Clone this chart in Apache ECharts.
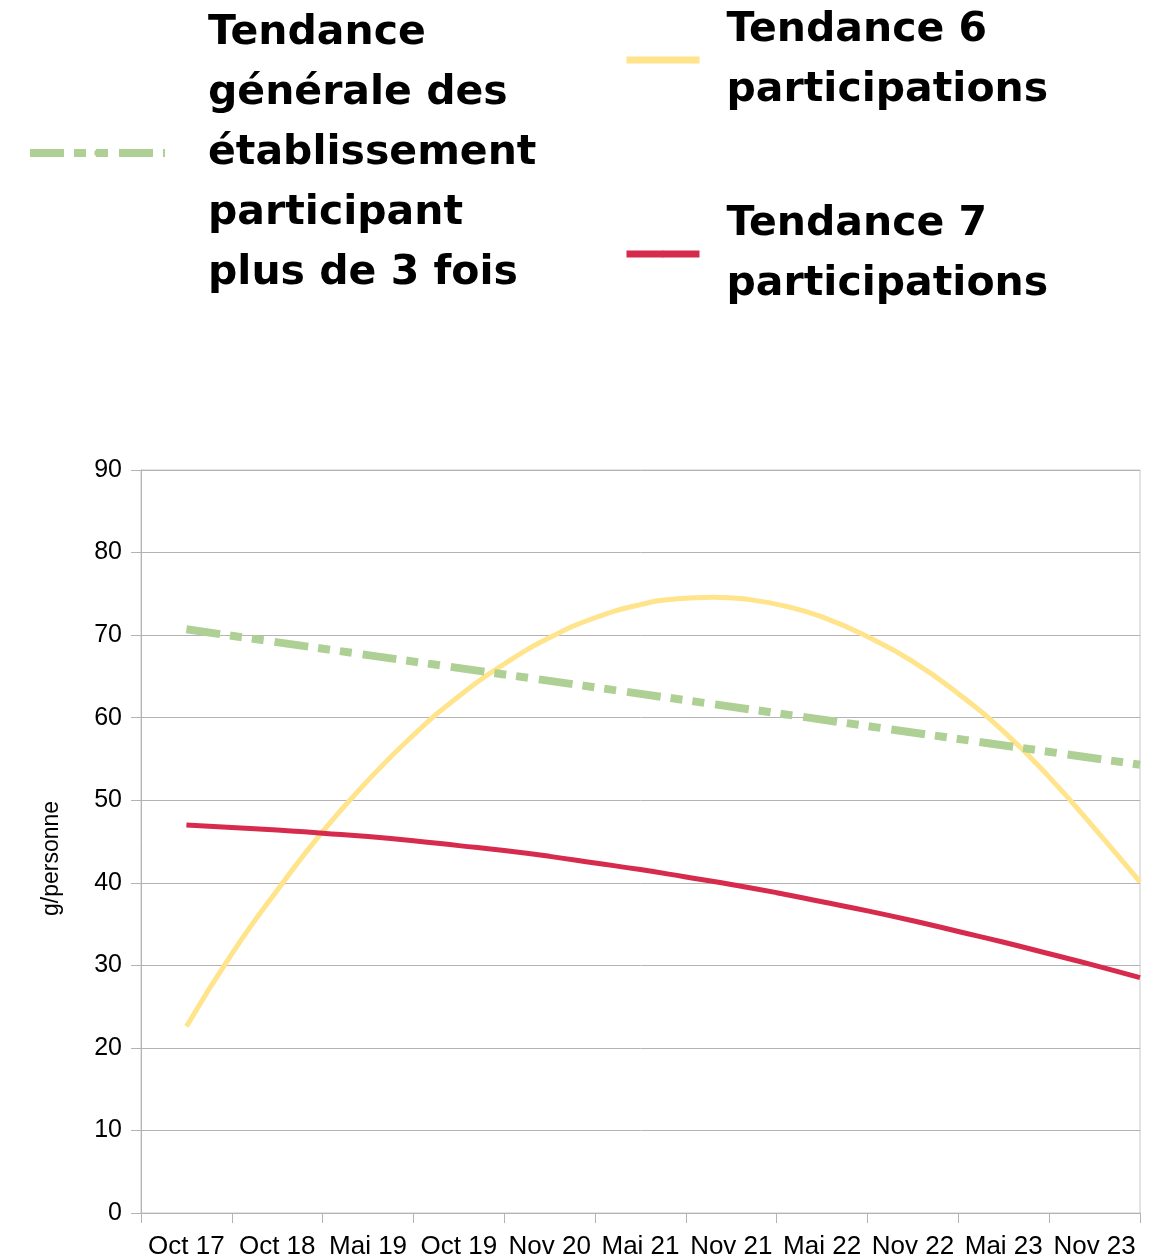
<!DOCTYPE html>
<html>
<head>
<meta charset="utf-8">
<script src="https://cdn.jsdelivr.net/npm/echarts@6/dist/echarts.min.js"></script>
<style>
  html, body { margin: 0; padding: 0; background: #fff; }
  #chart { width: 1166px; height: 1260px; }
</style>
</head>
<body>
<div id="chart"></div>
<script>
var chart = echarts.init(document.getElementById('chart'));

// periods on the x axis
var periods = ['Oct 17', 'Oct 18', 'Mai 19', 'Oct 19', 'Nov 20', 'Mai 21',
               'Nov 21', 'Mai 22', 'Nov 22', 'Mai 23', 'Nov 23'];

// trend curves, read every half period (last point = right edge of plot)
var trendPos = [0, 0.5, 1, 1.5, 2, 2.5, 3, 3.5, 4, 4.5, 5, 5.5,
                6, 6.5, 7, 7.5, 8, 8.5, 9, 9.5, 10, 10.5];
var generalPos = [0, 10.5];
var generalVals = [70.7, 54.3];
var sixPos = [0, 0.5, 1, 1.5, 2, 2.5, 3, 3.5, 4, 4.5, 5, 5.4, 5.8,
              6.2, 6.6, 7, 7.5, 8, 8.5, 9, 9.5, 10, 10.5];
var six = [22.6, 31.4, 39.1, 46.2, 52.4, 57.9, 62.6, 66.5, 69.7, 72.1, 73.7, 74.4, 74.6,
           74.3, 73.5, 72.2, 69.8, 66.8, 62.9, 58.3, 52.8, 46.6, 40.1];
var seven = [47.0, 46.7, 46.4, 46.0, 45.6, 45.1, 44.5, 43.9, 43.2, 42.4, 41.6, 40.7,
             39.8, 38.8, 37.7, 36.6, 35.4, 34.1, 32.8, 31.4, 30.0, 28.5];

var nameGeneral = 'Tendance\ngénérale des\nétablissement\nparticipant\nplus de 3 fois';
var nameSix = 'Tendance 6\nparticipations';
var nameSeven = 'Tendance 7\nparticipations';

var pairs = function(xs, ys) {
    var res = [];
    for (var i = 0; i < xs.length; ++i) {
        res.push([xs[i], ys[i]]);
    }
    return res;
};

var legendText = {
    fontFamily: 'DejaVu Sans',
    fontWeight: 'bold',
    fontSize: 41,
    lineHeight: 60,
    color: '#000'
};

option = {
    backgroundColor: '#fff',
    animation: false,
    legend: [
        {
            data: [nameGeneral],
            left: 26, top: 3, padding: 0,
            itemWidth: 135, itemHeight: 8,
            lineStyle: { width: 8 },
            textStyle: Object.assign({ padding: [0, 0, 0, 38] }, legendText),
            selectedMode: false
        }, {
            data: [nameSix],
            left: 623, top: 0, padding: 0,
            itemWidth: 73, itemHeight: 8,
            lineStyle: { width: 7 },
            textStyle: Object.assign({ padding: [0, 0, 0, 22] }, legendText),
            selectedMode: false
        }, {
            data: [nameSeven],
            left: 623, top: 194, padding: 0,
            itemWidth: 73, itemHeight: 8,
            lineStyle: { width: 7 },
            textStyle: Object.assign({ padding: [0, 0, 0, 22] }, legendText),
            selectedMode: false
        }
    ],
    grid: {
        left: 141, right: 26, top: 470, bottom: 47,
        show: true, borderColor: '#c8c8c8', borderWidth: 1
    },
    xAxis: [
        {
            type: 'category',
            data: periods,
            boundaryGap: true,
            axisLine: { lineStyle: { color: '#b3b3b3', width: 1 } },
            axisTick: { show: true, interval: 0, length: 10, lineStyle: { color: '#b3b3b3' } },
            axisLabel: {
                interval: 0, margin: 21,
                fontFamily: 'Liberation Sans', fontSize: 26, color: '#000'
            },
            splitLine: { show: false }
        }, {
            type: 'value',
            min: -0.5, max: 10.5,
            show: false
        }
    ],
    yAxis: {
        type: 'value',
        min: 0, max: 90, interval: 10,
        name: 'g/personne',
        nameLocation: 'middle',
        nameGap: 78,
        nameRotate: 90,
        nameTextStyle: {
            fontFamily: 'Liberation Sans', fontSize: 23, color: '#000',
            padding: [0, 34, 0, 0]
        },
        axisLine: { show: true, onZero: false, lineStyle: { color: '#b3b3b3', width: 1 } },
        axisTick: { show: true, length: 10, lineStyle: { color: '#b3b3b3' } },
        axisLabel: {
            margin: 19,
            fontFamily: 'Liberation Sans', fontSize: 25, color: '#000'
        },
        splitLine: { show: true, lineStyle: { color: '#b3b3b3', width: 1 } }
    },
    series: [
        {
            name: nameGeneral,
            type: 'line',
            xAxisIndex: 1,
            symbol: 'none',
            data: pairs(generalPos, generalVals),
            lineStyle: {
                color: '#afd095', width: 8,
                type: [34, 10, 12, 10, 12, 11],
                cap: 'butt'
            },
            itemStyle: { color: '#afd095' },
            z: 3
        }, {
            name: nameSix,
            type: 'line',
            xAxisIndex: 1,
            symbol: 'none',
            smooth: true,
            data: pairs(sixPos, six),
            lineStyle: { color: '#ffe48c', width: 5 },
            itemStyle: { color: '#ffe48c' },
            z: 2
        }, {
            name: nameSeven,
            type: 'line',
            xAxisIndex: 1,
            symbol: 'none',
            smooth: true,
            data: pairs(trendPos, seven),
            lineStyle: { color: '#d62b4d', width: 5 },
            itemStyle: { color: '#d62b4d' },
            z: 2
        }
    ]
};

chart.setOption(option);
</script>
</body>
</html>
